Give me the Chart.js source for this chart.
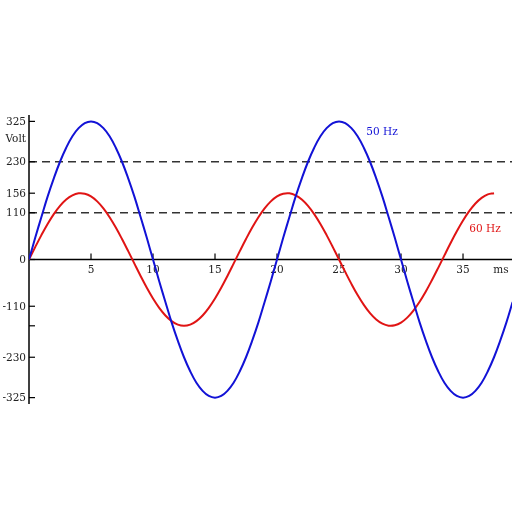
<!DOCTYPE html>
<html>
<head>
<meta charset="utf-8">
<script src="https://cdn.jsdelivr.net/npm/chart.js@4/dist/chart.umd.min.js"></script>
<style>
html,body{margin:0;padding:0;background:#fff;}
#wrap{width:512px;height:512px;}
</style>
</head>
<body>
<div id="wrap"><canvas id="c" width="512" height="512"></canvas></div>
<script>
// time axis in ms, one sample every 0.5 ms
const timeMs=[];
for(let i=0;i<=78;i++)timeMs.push(i*0.5);

// 50 Hz, 325 V peak
const volt50=[0,51,100,148,191,230,263,290,309,321,325,321,309,290,263,230,191,148,100,51,
  0,-51,-100,-148,-191,-230,-263,-290,-309,-321,-325,-321,-309,-290,-263,-230,-191,-148,-100,-51,
  0,51,100,148,191,230,263,290,309,321,325,321,309,290,263,230,191,148,100,51,
  0,-51,-100,-148,-191,-230,-263,-290,-309,-321,-325,-321,-309,-290,-263,-230,-191,-148,-100];

// 60 Hz, 156 V peak (red curve, stops at 37.5 ms)
const volt60=[0,29.2,57.4,83.6,106.8,126.2,141.2,151.1,155.7,154.8,148.4,136.7,120.2,99.4,75.2,48.2,19.6,
  -9.8,-38.8,-66.4,-91.7,-113.7,-131.7,-145,-153.2,-156,-153.2,-145,-131.7,-113.7,-91.7,-66.4,-38.8,-9.8,
  19.6,48.2,75.2,99.4,120.2,136.7,148.4,154.8,155.7,151.1,141.2,126.2,106.8,83.6,57.4,29.2,
  0,-29.2,-57.4,-83.6,-106.8,-126.2,-141.2,-151.1,-155.7,-154.8,-148.4,-136.7,-120.2,-99.4,-75.2,-48.2,-19.6,
  9.8,38.8,66.4,91.7,113.7,131.7,145,153.2,156];

const xTicks=[5,10,15,20,25,30,35];
const yTicks=[325,230,156,110,0,-110,-230,-325];
const yTicksBare=[-156];
const dashLevels=[230,110];

const BLUE='#1212d6',RED='#e01414',INK='#222';
const FONT='10.5px "DejaVu Serif", serif';

const axesPlugin={
  id:'axesPlugin',
  beforeDatasetsDraw(chart){
    const ctx=chart.ctx,xs=chart.scales.x,ys=chart.scales.y,a=chart.chartArea;
    const x0=xs.getPixelForValue(0),y0=ys.getPixelForValue(0);
    ctx.save();
    // dashed reference lines
    ctx.strokeStyle='#333';ctx.lineWidth=1.5;ctx.setLineDash([8,5]);
    dashLevels.forEach(v=>{const y=ys.getPixelForValue(v);ctx.beginPath();ctx.moveTo(x0,y);ctx.lineTo(a.right,y);ctx.stroke();});
    ctx.setLineDash([]);
    // axes
    ctx.strokeStyle='#000';ctx.lineWidth=1.5;
    ctx.beginPath();ctx.moveTo(x0,a.top);ctx.lineTo(x0,a.bottom);ctx.stroke();
    ctx.beginPath();ctx.moveTo(x0,y0);ctx.lineTo(a.right,y0);ctx.stroke();
    // ticks
    ctx.lineWidth=1.2;
    xTicks.forEach(v=>{const x=xs.getPixelForValue(v);ctx.beginPath();ctx.moveTo(x,y0);ctx.lineTo(x,y0-6);ctx.stroke();});
    yTicks.concat(yTicksBare).forEach(v=>{const y=ys.getPixelForValue(v);ctx.beginPath();ctx.moveTo(x0,y);ctx.lineTo(x0+6,y);ctx.stroke();});
    // labels
    ctx.font=FONT;ctx.fillStyle=INK;ctx.textBaseline='middle';
    ctx.textAlign='center';
    xTicks.forEach(v=>ctx.fillText(String(v),xs.getPixelForValue(v),y0+11));
    ctx.fillText('ms',501,y0+11);
    ctx.textAlign='right';
    yTicks.forEach(v=>ctx.fillText(String(v),x0-3,ys.getPixelForValue(v)+1));
    ctx.fillText('Volt',x0-3,ys.getPixelForValue(285)+1);
    ctx.restore();
  },
  afterDatasetsDraw(chart){
    const ctx=chart.ctx;
    ctx.save();
    ctx.font=FONT;ctx.textBaseline='middle';ctx.textAlign='center';
    ctx.fillStyle=BLUE;ctx.fillText('50 Hz',382,132);
    ctx.fillStyle=RED;ctx.fillText('60 Hz',485,229);
    ctx.restore();
  }
};

new Chart(document.getElementById('c'),{
  type:'line',
  data:{datasets:[
    {label:'50 Hz',data:timeMs.map((t,i)=>({x:t,y:volt50[i]})),borderColor:BLUE,borderWidth:2,pointRadius:0,tension:0.4,fill:false},
    {label:'60 Hz',data:volt60.map((v,i)=>({x:timeMs[i],y:v})),borderColor:RED,borderWidth:2,pointRadius:0,tension:0.4,fill:false}
  ]},
  options:{
    responsive:false,animation:false,devicePixelRatio:1,
    layout:{padding:{left:29,right:0,top:115,bottom:108}},
    plugins:{legend:{display:false},tooltip:{enabled:false}},
    scales:{
      x:{type:'linear',display:false,min:0,max:38.95},
      y:{type:'linear',display:false,min:-340,max:340}
    }
  },
  plugins:[axesPlugin]
});
</script>
</body>
</html>
